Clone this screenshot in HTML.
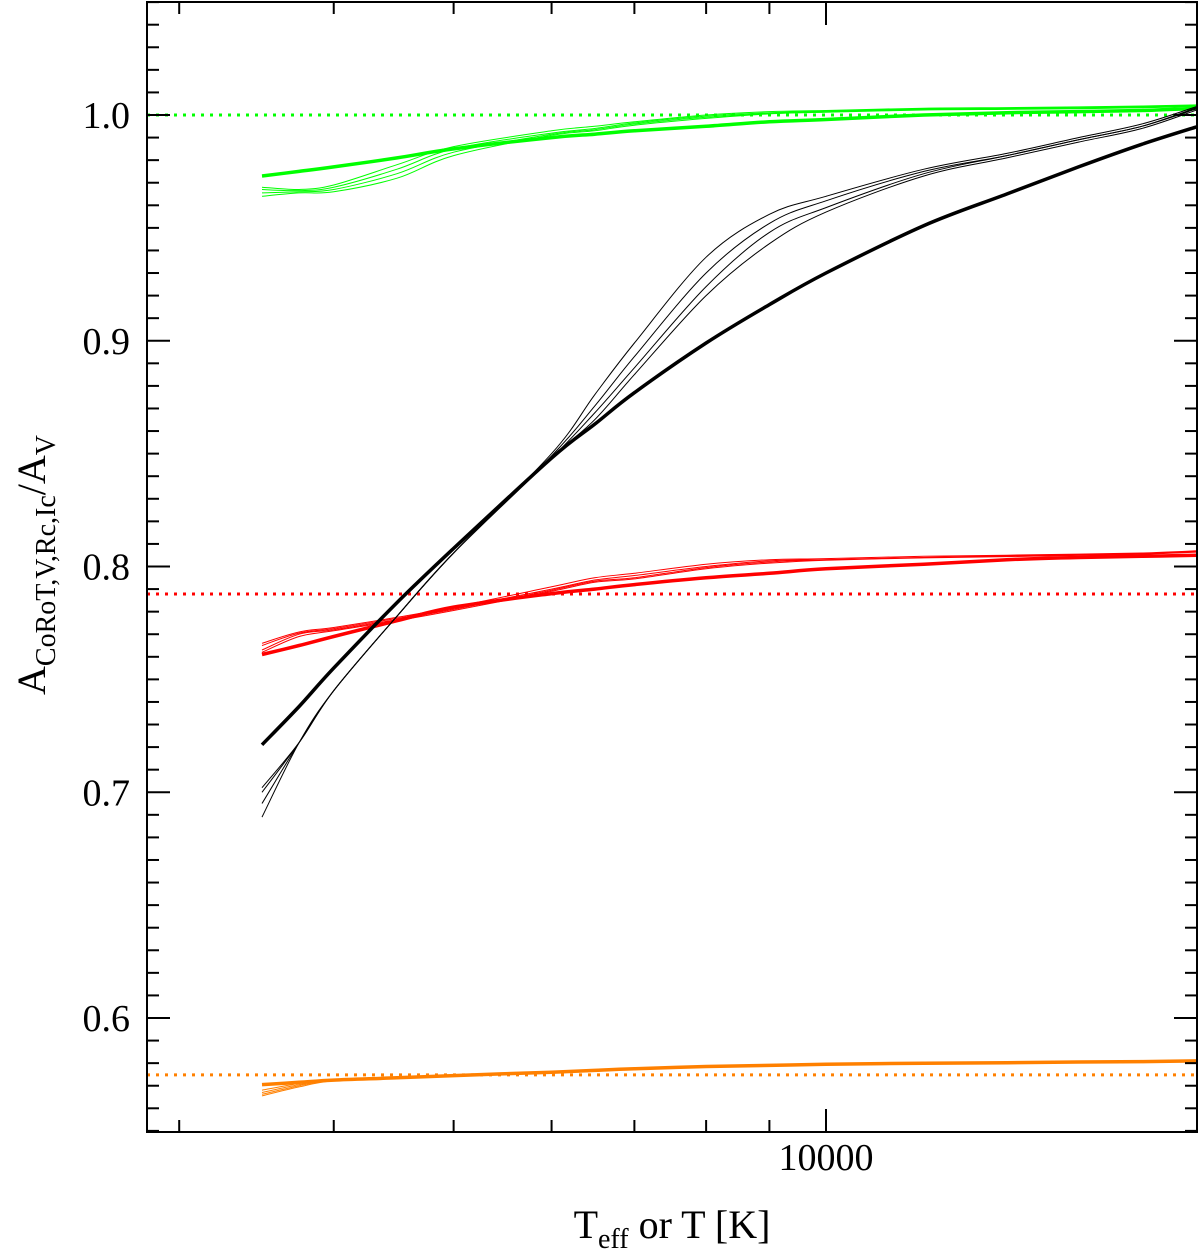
<!DOCTYPE html>
<html><head><meta charset="utf-8"><style>
html,body{margin:0;padding:0;background:#fff;}
svg{display:block;font-family:"Liberation Serif","Times New Roman",Times,serif;}
</style></head><body>
<svg id="chart" width="1200" height="1260" viewBox="0 0 1200 1260" xmlns="http://www.w3.org/2000/svg">
<g id="marks"></g>
<g id="axes"></g>
<text x="826" y="1170" font-size="38" text-anchor="middle">10000</text>
<text x="672" y="1238" font-size="40" text-anchor="middle">T<tspan font-size="28" dy="10">eff</tspan><tspan dy="-10"> or T [K]</tspan></text>
<text transform="translate(45,565) rotate(-90)" font-size="40" text-anchor="middle">A<tspan font-size="28" dy="10">CoRoT,V,Rc,Ic</tspan><tspan dy="-10">/A</tspan><tspan font-size="28" dy="10">V</tspan></text>
</svg>
<script>
const temps = [3500,3750,4000,4500,5000,6000,6500,7000,8000,9000,10000,12000,14000,16000,18000,20000];
const blackThick = [0.721,0.738,0.755,0.784,0.808,0.848,0.863,0.877,0.899,0.916,0.930,0.951,0.965,0.977,0.987,0.995];
const blackThin1 = [0.702,0.722,0.745,0.778,0.806,0.850,0.876,0.899,0.937,0.956,0.964,0.976,0.983,0.990,0.996,1.004];
const blackThin2 = [0.700,0.722,0.745,0.778,0.806,0.849,0.871,0.893,0.930,0.952,0.962,0.975,0.982,0.989,0.995,1.0035];
const blackThin3 = [0.695,0.722,0.745,0.778,0.806,0.848,0.868,0.888,0.924,0.948,0.959,0.974,0.982,0.989,0.995,1.003];
const blackThin4 = [0.689,0.722,0.745,0.778,0.806,0.848,0.865,0.885,0.920,0.943,0.957,0.973,0.981,0.988,0.994,1.0025];
const greenThick = [0.973,0.975,0.977,0.981,0.985,0.990,0.9915,0.993,0.995,0.997,0.998,1.0,1.001,1.0015,1.002,1.003];
const greenThin1 = [0.968,0.967,0.969,0.978,0.986,0.993,0.995,0.997,1.0,1.0015,1.002,1.003,1.0033,1.0036,1.004,1.0045];
const greenThin2 = [0.967,0.9665,0.968,0.976,0.985,0.992,0.994,0.9965,0.9995,1.001,1.0018,1.0027,1.003,1.0033,1.0037,1.0042];
const greenThin3 = [0.9655,0.966,0.967,0.974,0.9835,0.9915,0.9935,0.996,0.999,1.0007,1.0015,1.0025,1.0028,1.003,1.0034,1.004];
const greenThin4 = [0.964,0.9655,0.966,0.972,0.982,0.991,0.993,0.9955,0.9985,1.0005,1.0012,1.0022,1.0025,1.0028,1.0032,1.0038];
const redThick = [0.761,0.765,0.769,0.776,0.782,0.788,0.790,0.792,0.795,0.797,0.799,0.801,0.803,0.804,0.8045,0.805];
const redThin1 = [0.766,0.771,0.773,0.7775,0.782,0.791,0.795,0.797,0.801,0.803,0.8035,0.8045,0.805,0.8055,0.806,0.807];
const redThin2 = [0.765,0.7705,0.7725,0.777,0.7815,0.790,0.794,0.796,0.800,0.8025,0.803,0.804,0.8048,0.8053,0.8058,0.8068];
const redThin3 = [0.763,0.770,0.772,0.7765,0.781,0.7895,0.7935,0.795,0.7995,0.802,0.803,0.804,0.8046,0.8051,0.8056,0.8066];
const redThin4 = [0.762,0.769,0.7715,0.776,0.7805,0.789,0.793,0.7945,0.799,0.8015,0.8028,0.8038,0.8044,0.8049,0.8054,0.8064];
const orangeThick = [0.5705,0.5715,0.5725,0.5735,0.5745,0.576,0.5768,0.5775,0.5785,0.579,0.5795,0.580,0.5802,0.5805,0.5807,0.581];
const orangeThin1 = [0.568,0.571,0.5728,0.5738,0.5748,0.5763,0.577,0.5778,0.5788,0.5793,0.5797,0.5802,0.5804,0.5806,0.5808,0.5811];
const orangeThin2 = [0.567,0.5705,0.5726,0.5737,0.5747,0.5762,0.5769,0.5777,0.5787,0.5792,0.5796,0.5801,0.5803,0.5805,0.5807,0.581];
const orangeThin3 = [0.5662,0.570,0.5724,0.5736,0.5746,0.5761,0.5768,0.5776,0.5786,0.5791,0.5795,0.58,0.5802,0.5804,0.5806,0.5809];
const orangeThin4 = [0.5655,0.5695,0.5722,0.5735,0.5745,0.576,0.5767,0.5775,0.5785,0.579,0.5794,0.5799,0.5801,0.5803,0.5805,0.5808];
const refLevels = [1.0, 0.7878, 0.5748];
const yTickLabels = ["0.6","0.7","0.8","0.9","1.0"];
const xMinorTicks = [3000,4000,5000,6000,7000,8000,9000];
const xMajorTicks = [10000];

const NS = "http://www.w3.org/2000/svg";
const L = 147, R = 1197, T = 2, B = 1132;
function xs(t){ return 826 + 1237*Math.log10(t/10000); }
function ys(v){ return 115 + (1.0 - v)*2257.5; }
function mk(tag, attrs, parent){
  const e = document.createElementNS(NS, tag);
  for (const k in attrs) e.setAttribute(k, attrs[k]);
  parent.appendChild(e);
  return e;
}
const marks = document.getElementById('marks');
const axes = document.getElementById('axes');
const clip = mk('clipPath', {id:'pc'}, marks);
mk('rect', {x:L, y:T, width:R-L, height:B-T}, clip);
const plot = mk('g', {'clip-path':'url(#pc)'}, marks);

const refColors = ['#00ff00','#ff0000','#ff8000'];
refLevels.forEach((v,i)=>{
  const ln = mk('line', {x1:L, x2:R, y1:ys(v), y2:ys(v), stroke:refColors[i], 'stroke-width':3, 'stroke-dasharray':'3,6'}, plot);
  
  
});

function smoothPath(pts){
  let d = 'M' + pts[0][0].toFixed(1) + ',' + pts[0][1].toFixed(1);
  for (let i=0;i<pts.length-1;i++){
    const p0 = pts[Math.max(0,i-1)], p1 = pts[i], p2 = pts[i+1], p3 = pts[Math.min(pts.length-1,i+2)];
    const c1x = p1[0] + (p2[0]-p0[0])/6, c1y = p1[1] + (p2[1]-p0[1])/6;
    const c2x = p2[0] - (p3[0]-p1[0])/6, c2y = p2[1] - (p3[1]-p1[1])/6;
    d += ' C' + c1x.toFixed(1)+','+c1y.toFixed(1)+' '+c2x.toFixed(1)+','+c2y.toFixed(1)+' '+p2[0].toFixed(1)+','+p2[1].toFixed(1);
  }
  return d;
}
function series(vals, color, w, name){
  const pts = vals.map((v,i)=>[xs(temps[i]), ys(v)]);
  const p = mk('path', {d:smoothPath(pts), fill:'none', stroke:color, 'stroke-width':w, 'stroke-linejoin':'round'}, plot);
  
  
}
[[orangeThin1,1],[orangeThin2,2],[orangeThin3,3],[orangeThin4,4]].forEach(([s,i])=>series(s,'#ff8000',1,'orange-thin-line-'+i));
series(orangeThick,'#ff8000',3.5,'orange-thick-line');
[[redThin1,1],[redThin2,2],[redThin3,3],[redThin4,4]].forEach(([s,i])=>series(s,'#ff0000',1,'red-thin-line-'+i));
series(redThick,'#ff0000',3.5,'red-thick-line');
[[greenThin1,1],[greenThin2,2],[greenThin3,3],[greenThin4,4]].forEach(([s,i])=>series(s,'#00ff00',1,'green-thin-line-'+i));
series(greenThick,'#00ff00',3.5,'green-thick-line');
[[blackThin1,1],[blackThin2,2],[blackThin3,3],[blackThin4,4]].forEach(([s,i])=>series(s,'#000',1,'black-thin-line-'+i));
series(blackThick,'#000',3.5,'black-thick-line');

const frame = mk('rect', {x:L, y:T, width:R-L, height:B-T, fill:'none', stroke:'#000', 'stroke-width':2}, axes);


for (let k=55;k<=105;k++){
  const v = k/100, y = ys(v), major = (k%10===0);
  const len = major?23:12;
  mk('line',{x1:L,x2:L+len,y1:y,y2:y,stroke:'#000','stroke-width':2},axes);
  mk('line',{x1:R,x2:R-len,y1:y,y2:y,stroke:'#000','stroke-width':2},axes);
}
yTickLabels.forEach(s=>{
  const t = mk('text',{x:130,y:ys(parseFloat(s))+13,'font-size':38,'text-anchor':'end'},axes);
  t.textContent = s;
  
  
});
xMinorTicks.forEach(t=>{
  const x = xs(t);
  mk('line',{x1:x,x2:x,y1:B,y2:B-12,stroke:'#000','stroke-width':2},axes);
  mk('line',{x1:x,x2:x,y1:T,y2:T+12,stroke:'#000','stroke-width':2},axes);
});
xMajorTicks.forEach(t=>{
  const x = xs(t);
  mk('line',{x1:x,x2:x,y1:B,y2:B-23,stroke:'#000','stroke-width':2},axes);
  mk('line',{x1:x,x2:x,y1:T,y2:T+23,stroke:'#000','stroke-width':2},axes);
});
</script>
</body></html>
